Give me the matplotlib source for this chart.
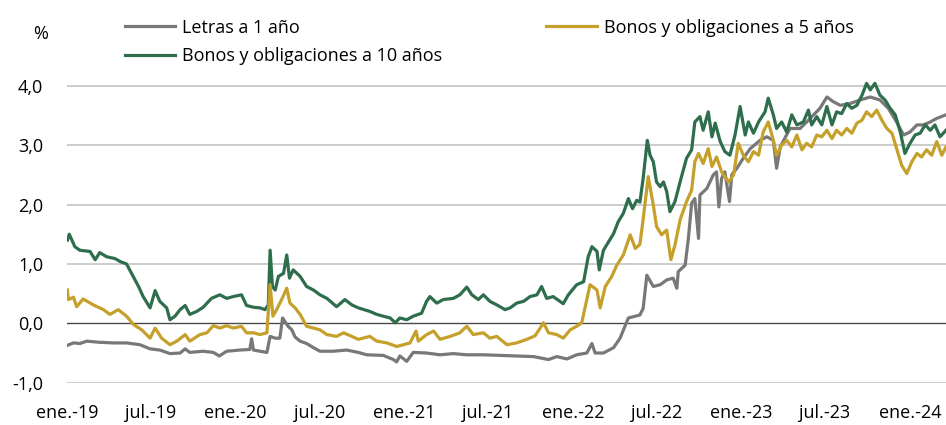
import pandas as pd
import matplotlib
matplotlib.use('Agg')
import matplotlib.pyplot as plt

#########################################################

plt.rcParams['font.family'] = ['Open Sans', 'DejaVu Sans']

LABELS = ['Letras a 1 año', 'Bonos y obligaciones a 5 años', 'Bonos y obligaciones a 10 años']
COLORS = ['#787878', '#C5A02B', '#2E6E4C']

# Letras a 1 año
dates_1y = ['2019-01-02', '2019-01-15', '2019-01-29', '2019-02-13', '2019-03-13', '2019-04-11',
            '2019-05-10', '2019-06-08', '2019-06-30', '2019-07-21', '2019-08-12', '2019-09-03',
            '2019-09-14', '2019-09-24', '2019-10-23', '2019-11-14', '2019-11-27', '2019-12-13',
            '2020-01-11', '2020-02-01', '2020-02-05', '2020-02-09', '2020-02-23', '2020-03-09',
            '2020-03-16', '2020-03-27', '2020-04-06', '2020-04-12', '2020-04-17', '2020-04-24',
            '2020-05-02', '2020-05-09', '2020-05-20', '2020-06-03', '2020-06-18', '2020-07-02',
            '2020-07-31', '2020-08-29', '2020-09-23', '2020-10-11', '2020-11-16', '2020-12-08',
            '2020-12-15', '2020-12-22', '2021-01-06', '2021-01-20', '2021-02-18', '2021-03-19',
            '2021-04-17', '2021-05-16', '2021-06-21', '2021-07-27', '2021-09-01', '2021-10-07',
            '2021-11-09', '2021-11-27', '2021-12-19', '2022-01-09', '2022-01-31', '2022-02-11',
            '2022-02-18', '2022-03-08', '2022-03-30', '2022-04-13', '2022-05-01', '2022-05-26',
            '2022-06-02', '2022-06-10', '2022-06-24', '2022-07-09', '2022-07-23', '2022-08-06',
            '2022-08-14', '2022-08-17', '2022-09-01', '2022-09-08', '2022-09-15', '2022-09-22',
            '2022-09-30', '2022-10-03', '2022-10-18', '2022-11-01', '2022-11-08', '2022-11-13',
            '2022-11-19', '2022-11-26', '2022-12-06', '2022-12-11', '2022-12-22', '2023-01-05',
            '2023-01-20', '2023-02-10', '2023-02-25', '2023-03-11', '2023-03-18', '2023-03-26',
            '2023-04-16', '2023-05-08', '2023-05-30', '2023-06-20', '2023-07-05', '2023-07-19',
            '2023-08-03', '2023-08-24', '2023-09-15', '2023-10-07', '2023-10-28', '2023-11-15',
            '2023-12-03', '2023-12-18', '2024-01-01', '2024-01-16', '2024-01-30', '2024-02-14',
            '2024-02-28', '2024-03-19']
values_1y = [-0.37, -0.33, -0.34, -0.30, -0.32, -0.33,
             -0.33, -0.36, -0.43, -0.45, -0.51, -0.50,
             -0.43, -0.49, -0.47, -0.49, -0.55, -0.47,
             -0.45, -0.44, -0.26, -0.45, -0.47, -0.49,
             -0.22, -0.25, -0.25, 0.09, 0.03, -0.05,
             -0.11, -0.23, -0.30, -0.34, -0.41, -0.47,
             -0.47, -0.45, -0.49, -0.53, -0.54, -0.61,
             -0.65, -0.55, -0.64, -0.49, -0.50, -0.53,
             -0.51, -0.53, -0.53, -0.54, -0.55, -0.56,
             -0.61, -0.56, -0.60, -0.53, -0.50, -0.34,
             -0.50, -0.50, -0.41, -0.25, 0.09, 0.14,
             0.25, 0.81, 0.62, 0.65, 0.73, 0.76,
             0.59, 0.87, 0.98, 1.43, 2.02, 2.10,
             1.43, 2.16, 2.27, 2.50, 2.55, 1.96,
             2.44, 2.55, 2.05, 2.50, 2.61, 2.78,
             2.94, 3.08, 3.14, 3.08, 2.61, 2.97,
             3.28, 3.28, 3.45, 3.62, 3.81, 3.73,
             3.67, 3.70, 3.76, 3.81, 3.76, 3.62,
             3.39, 3.17, 3.22, 3.34, 3.34, 3.39,
             3.45, 3.51]

# Bonos y obligaciones a 5 años
dates_5y = ['2019-01-02', '2019-01-04', '2019-01-15', '2019-01-22', '2019-02-05', '2019-02-27',
            '2019-03-21', '2019-04-04', '2019-04-22', '2019-05-10', '2019-05-25', '2019-06-12',
            '2019-06-30', '2019-07-11', '2019-07-25', '2019-08-12', '2019-08-27', '2019-09-14',
            '2019-09-24', '2019-10-16', '2019-10-31', '2019-11-14', '2019-11-28', '2019-12-13',
            '2019-12-27', '2020-01-14', '2020-01-25', '2020-02-09', '2020-02-23', '2020-03-09',
            '2020-03-16', '2020-03-22', '2020-03-30', '2020-04-10', '2020-04-21', '2020-04-28',
            '2020-05-09', '2020-05-20', '2020-06-03', '2020-06-18', '2020-07-02', '2020-07-17',
            '2020-08-07', '2020-08-22', '2020-09-09', '2020-09-23', '2020-10-18', '2020-11-02',
            '2020-11-24', '2020-12-15', '2020-12-30', '2021-01-13', '2021-01-26', '2021-01-31',
            '2021-02-18', '2021-03-05', '2021-03-19', '2021-04-10', '2021-05-01', '2021-05-16',
            '2021-05-30', '2021-06-21', '2021-07-05', '2021-07-20', '2021-08-11', '2021-09-01',
            '2021-09-23', '2021-10-11', '2021-10-22', '2021-10-29', '2021-11-09', '2021-11-27',
            '2021-12-11', '2021-12-26', '2022-01-09', '2022-01-20', '2022-01-31', '2022-02-07',
            '2022-02-22', '2022-03-01', '2022-03-12', '2022-03-26', '2022-04-06', '2022-04-20',
            '2022-05-05', '2022-05-16', '2022-05-26', '2022-06-02', '2022-06-13', '2022-06-24',
            '2022-07-01', '2022-07-12', '2022-07-23', '2022-08-01', '2022-08-10', '2022-08-21',
            '2022-09-04', '2022-09-15', '2022-09-22', '2022-09-30', '2022-10-10', '2022-10-21',
            '2022-10-29', '2022-11-08', '2022-11-19', '2022-12-04', '2022-12-15', '2022-12-25',
            '2023-01-05', '2023-01-16', '2023-01-27', '2023-02-07', '2023-02-17', '2023-02-28',
            '2023-03-11', '2023-03-18', '2023-03-29', '2023-04-09', '2023-04-20', '2023-05-01',
            '2023-05-12', '2023-05-22', '2023-06-02', '2023-06-13', '2023-06-24', '2023-07-05',
            '2023-07-16', '2023-07-26', '2023-08-06', '2023-08-17', '2023-08-28', '2023-09-08',
            '2023-09-19', '2023-09-29', '2023-10-10', '2023-10-21', '2023-11-01', '2023-11-12',
            '2023-11-23', '2023-12-03', '2023-12-14', '2023-12-25', '2024-01-05', '2024-01-16',
            '2024-01-26', '2024-02-06', '2024-02-17', '2024-02-28', '2024-03-10', '2024-03-19']
values_5y = [0.56, 0.40, 0.44, 0.28, 0.41, 0.31,
             0.23, 0.15, 0.23, 0.12, -0.02, -0.11,
             -0.25, -0.08, -0.25, -0.36, -0.30, -0.19,
             -0.30, -0.19, -0.16, -0.04, -0.08, -0.04,
             -0.08, -0.05, -0.16, -0.16, -0.19, -0.16,
             0.65, 0.12, 0.23, 0.40, 0.59, 0.34,
             0.26, 0.15, -0.05, -0.08, -0.11, -0.19,
             -0.22, -0.16, -0.22, -0.27, -0.22, -0.30,
             -0.33, -0.39, -0.36, -0.33, -0.13, -0.30,
             -0.19, -0.13, -0.27, -0.22, -0.16, -0.05,
             -0.19, -0.16, -0.25, -0.22, -0.36, -0.33,
             -0.27, -0.21, -0.08, 0.01, -0.16, -0.19,
             -0.25, -0.11, -0.05, 0.01, 0.40, 0.65,
             0.56, 0.26, 0.62, 0.79, 0.98, 1.15,
             1.49, 1.26, 1.33, 1.75, 2.47, 1.99,
             1.63, 1.49, 1.57, 1.07, 1.32, 1.74,
             2.05, 2.24, 2.72, 2.86, 2.69, 2.94,
             2.64, 2.80, 2.55, 2.38, 2.50, 3.03,
             2.83, 2.72, 2.89, 2.83, 3.22, 3.39,
             3.08, 2.83, 3.00, 3.08, 2.97, 3.17,
             2.92, 3.03, 2.97, 3.17, 3.14, 3.25,
             3.11, 3.25, 3.17, 3.28, 3.20, 3.37,
             3.42, 3.56, 3.48, 3.59, 3.42, 3.28,
             3.20, 2.94, 2.66, 2.52, 2.72, 2.86,
             2.80, 2.92, 2.83, 3.06, 2.83, 2.97]

# Bonos y obligaciones a 10 años
dates_10y = ['2019-01-02', '2019-01-06', '2019-01-18', '2019-01-29', '2019-02-20', '2019-03-03',
             '2019-03-13', '2019-03-28', '2019-04-15', '2019-04-26', '2019-05-10', '2019-05-21',
             '2019-06-05', '2019-06-15', '2019-06-30', '2019-07-11', '2019-07-21', '2019-08-05',
             '2019-08-12', '2019-08-23', '2019-09-03', '2019-09-14', '2019-09-24', '2019-10-09',
             '2019-10-23', '2019-11-10', '2019-11-28', '2019-12-13', '2019-12-27', '2020-01-14',
             '2020-01-25', '2020-02-09', '2020-02-23', '2020-03-05', '2020-03-12', '2020-03-16',
             '2020-03-21', '2020-03-27', '2020-04-03', '2020-04-14', '2020-04-21', '2020-04-27',
             '2020-05-05', '2020-05-20', '2020-06-03', '2020-06-18', '2020-07-02', '2020-07-17',
             '2020-08-07', '2020-08-25', '2020-09-09', '2020-09-23', '2020-10-18', '2020-11-02',
             '2020-11-16', '2020-12-01', '2020-12-12', '2020-12-22', '2021-01-06', '2021-01-20',
             '2021-02-07', '2021-02-18', '2021-02-25', '2021-03-12', '2021-03-26', '2021-04-17',
             '2021-05-01', '2021-05-16', '2021-05-27', '2021-06-10', '2021-06-21', '2021-07-05',
             '2021-07-20', '2021-08-07', '2021-08-18', '2021-09-01', '2021-09-16', '2021-09-30',
             '2021-10-15', '2021-10-25', '2021-11-05', '2021-11-19', '2021-11-30', '2021-12-11',
             '2021-12-22', '2022-01-09', '2022-01-24', '2022-02-03', '2022-02-11', '2022-02-22',
             '2022-02-27', '2022-03-08', '2022-03-19', '2022-03-30', '2022-04-09', '2022-04-20',
             '2022-05-01', '2022-05-10', '2022-05-19', '2022-05-26', '2022-06-02', '2022-06-11',
             '2022-06-17', '2022-06-24', '2022-07-01', '2022-07-09', '2022-07-16', '2022-07-23',
             '2022-07-30', '2022-08-10', '2022-08-21', '2022-09-04', '2022-09-15', '2022-09-22',
             '2022-10-03', '2022-10-10', '2022-10-21', '2022-10-29', '2022-11-05', '2022-11-16',
             '2022-11-26', '2022-12-07', '2022-12-18', '2022-12-29', '2023-01-09', '2023-01-16',
             '2023-01-27', '2023-02-07', '2023-02-21', '2023-02-28', '2023-03-11', '2023-03-18',
             '2023-03-29', '2023-04-09', '2023-04-20', '2023-05-01', '2023-05-15', '2023-05-26',
             '2023-06-02', '2023-06-13', '2023-06-24', '2023-07-05', '2023-07-16', '2023-07-26',
             '2023-08-06', '2023-08-17', '2023-08-28', '2023-09-08', '2023-09-19', '2023-09-29',
             '2023-10-07', '2023-10-17', '2023-10-28', '2023-11-08', '2023-11-19', '2023-11-30',
             '2023-12-11', '2023-12-21', '2024-01-01', '2024-01-12', '2024-01-23', '2024-02-03',
             '2024-02-14', '2024-02-24', '2024-03-06', '2024-03-19']
values_10y = [1.40, 1.50, 1.29, 1.23, 1.21, 1.07,
              1.19, 1.12, 1.09, 1.04, 1.00, 0.84,
              0.62, 0.45, 0.26, 0.55, 0.37, 0.26,
              0.06, 0.12, 0.23, 0.30, 0.15, 0.20,
              0.27, 0.42, 0.48, 0.42, 0.45, 0.48,
              0.30, 0.27, 0.26, 0.23, 0.31, 1.23,
              0.62, 0.56, 0.79, 0.84, 1.15, 0.76,
              0.90, 0.79, 0.62, 0.56, 0.48, 0.42,
              0.28, 0.40, 0.31, 0.26, 0.20, 0.15,
              0.12, 0.09, 0.01, 0.09, 0.06, 0.12,
              0.17, 0.37, 0.45, 0.34, 0.40, 0.42,
              0.48, 0.61, 0.48, 0.40, 0.48, 0.37,
              0.31, 0.23, 0.26, 0.34, 0.37, 0.45,
              0.48, 0.62, 0.42, 0.45, 0.39, 0.33,
              0.48, 0.65, 0.70, 1.12, 1.29, 1.21,
              0.90, 1.23, 1.37, 1.51, 1.71, 1.85,
              2.10, 1.93, 2.07, 2.04, 2.44, 3.08,
              2.83, 2.72, 2.38, 2.30, 2.38, 2.22,
              1.88, 2.05, 2.38, 2.78, 2.92, 3.39,
              3.48, 3.25, 3.56, 3.14, 3.37, 3.06,
              2.89, 2.83, 3.17, 3.65, 3.17, 3.39,
              3.20, 3.39, 3.56, 3.79, 3.51, 3.28,
              3.39, 3.22, 3.51, 3.34, 3.39, 3.59,
              3.34, 3.48, 3.34, 3.65, 3.34, 3.56,
              3.53, 3.70, 3.62, 3.67, 3.84, 4.04,
              3.93, 4.04, 3.84, 3.76, 3.62, 3.51,
              3.22, 2.86, 3.03, 3.17, 3.20, 3.34,
              3.25, 3.34, 3.14, 3.25]

TICK_DATES = ['2019-01-01', '2019-07-01', '2020-01-01', '2020-07-01', '2021-01-01', '2021-07-01',
              '2022-01-01', '2022-07-01', '2023-01-01', '2023-07-01', '2024-01-01']
TICK_LABELS = ['ene.-19', 'jul.-19', 'ene.-20', 'jul.-20', 'ene.-21', 'jul.-21',
               'ene.-22', 'jul.-22', 'ene.-23', 'jul.-23', 'ene.-24']
Y_TICKS = [-1, 0, 1, 2, 3, 4]

#########################################################

FS = 13

fig = plt.figure(figsize=(9.46, 4.25), dpi=100)
ax = fig.add_axes([0.0708, 0.0995, 0.9292, 0.7687])

# legend is filled column-wise: gray, green in col 1, gold in col 2
series = [(dates_1y, values_1y), (dates_10y, values_10y), (dates_5y, values_5y)]
order = [0, 2, 1]
handles = []
for (d, v), i in zip(series, order):
    h, = ax.plot(pd.to_datetime(d), v, color=COLORS[i], lw=2.3, label=LABELS[i],
                 solid_joinstyle='round', zorder=3)
    handles.append(h)

for y in Y_TICKS:
    if y == 0:
        ax.axhline(y, color='#4a4a4a', lw=1.0, zorder=2)
    else:
        ax.axhline(y, color='#c4c4c4', lw=1.2, zorder=1)

ax.set_ylim(-1, 4.5)
ax.set_xlim(pd.Timestamp('2019-01-01'), pd.Timestamp('2024-03-19'))
ax.set_yticks(Y_TICKS)
ax.set_yticklabels([f'{y:.1f}'.replace('.', ',') for y in Y_TICKS], fontsize=FS)
ax.set_xticks(pd.to_datetime(TICK_DATES))
ax.set_xticklabels(TICK_LABELS, fontsize=FS)
ax.tick_params(axis='y', length=0, pad=17)
ax.tick_params(axis='x', length=0, pad=15)
for s in ax.spines.values():
    s.set_visible(False)

fig.text(41 / 946, 1 - 34 / 425, '%', fontsize=FS, ha='center', va='center')

fig.legend(handles=handles, ncol=2, loc='upper left', bbox_to_anchor=(112 / 946, 1 - 6 / 425),
           frameon=False, fontsize=FS, handlelength=2.8, handletextpad=0.4,
           columnspacing=5.75, labelspacing=0.6, borderpad=0.2)

fig.savefig('out.png', dpi=100)
